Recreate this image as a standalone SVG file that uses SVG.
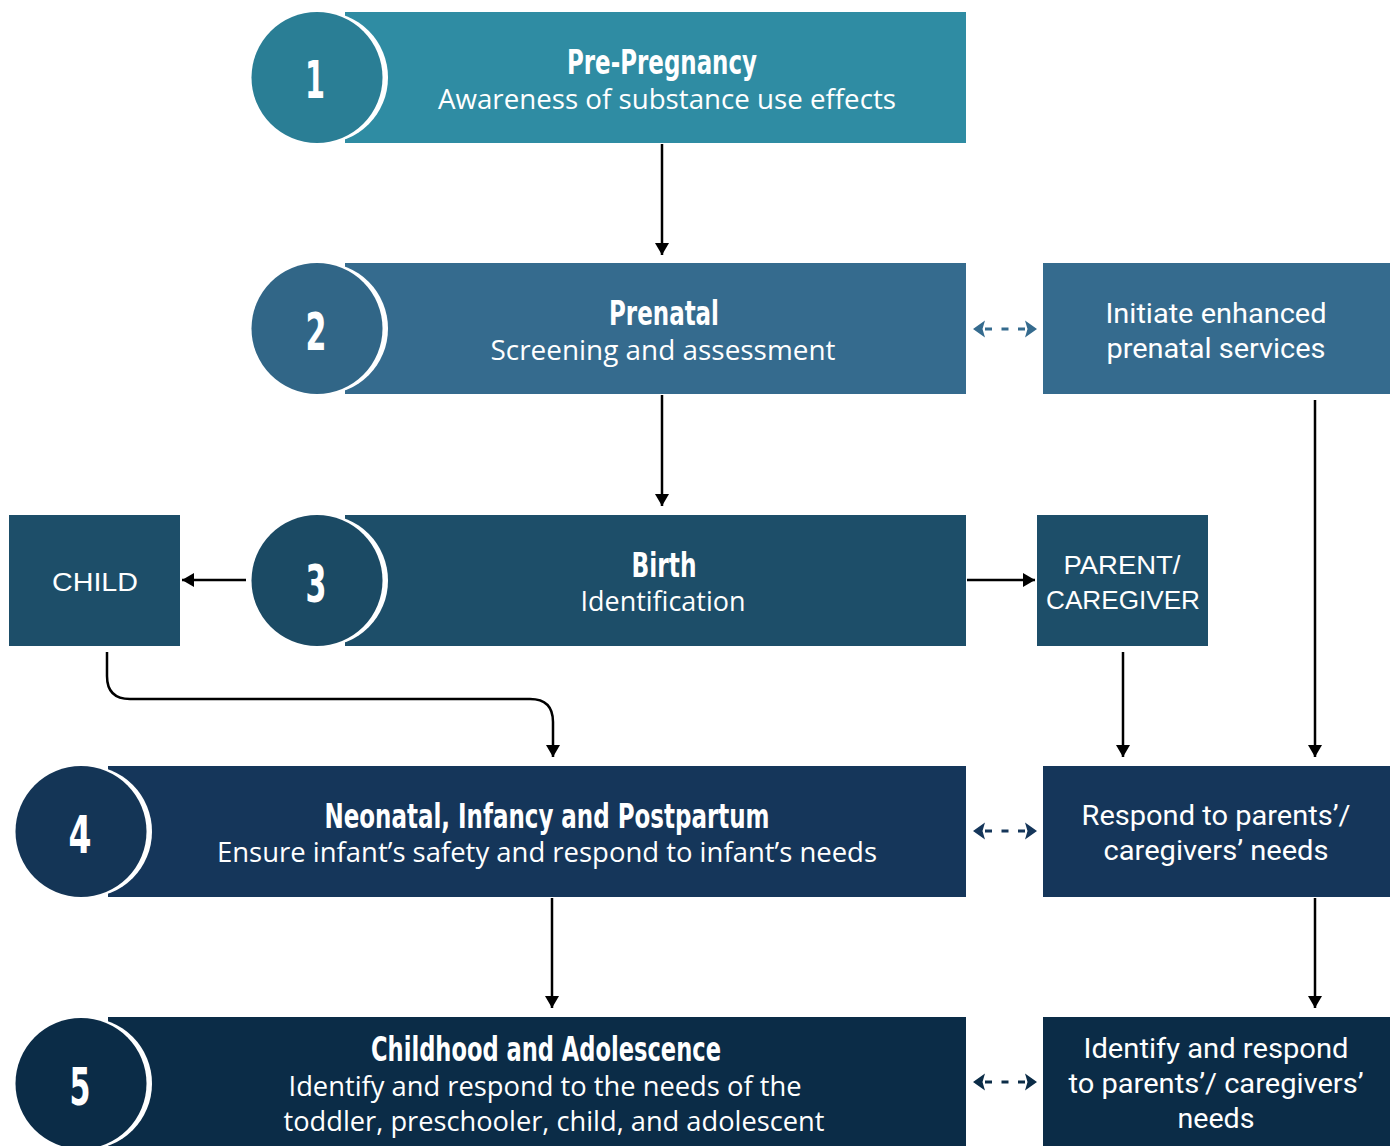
<svg xmlns="http://www.w3.org/2000/svg" width="1394" height="1146" viewBox="0 0 1394 1146">
<style>
.t{font-family:"Liberation Sans Narrow","DejaVu Sans Condensed","Liberation Sans",sans-serif;font-weight:bold;fill:#fff;text-anchor:middle}
.s{font-family:"Open Sans","Noto Sans",sans-serif;fill:#fff;text-anchor:middle;font-size:27px}
.n{font-family:"Liberation Sans Narrow","DejaVu Sans Condensed","Liberation Sans",sans-serif;font-weight:bold;fill:#fff;text-anchor:middle;font-size:52px}
.r{font-family:Roboto,"Liberation Sans",sans-serif;fill:#fff;text-anchor:middle;font-size:28px}
.a{font-family:"Liberation Sans",Arial,sans-serif;fill:#fff;text-anchor:middle;font-size:26px}
.c{fill:none;stroke:#000;stroke-width:2.5}
.d{fill:none;stroke-width:3;stroke-dasharray:7 9.5}
</style>
<defs>
<marker id="ah" markerUnits="userSpaceOnUse" markerWidth="14" markerHeight="14" refX="12" refY="7" orient="auto"><path d="M0,0 L12,7 L0,14 z" fill="#000"/></marker>
<marker id="d2" markerUnits="userSpaceOnUse" markerWidth="14" markerHeight="18" refX="0" refY="9" orient="auto-start-reverse"><path d="M0,0.5 L12,9 L0,17.5 L2.5,9 z" fill="#356b8e"/></marker>
<marker id="d4" markerUnits="userSpaceOnUse" markerWidth="14" markerHeight="18" refX="0" refY="9" orient="auto-start-reverse"><path d="M0,0.5 L12,9 L0,17.5 L2.5,9 z" fill="#15365a"/></marker>
<marker id="d5" markerUnits="userSpaceOnUse" markerWidth="14" markerHeight="18" refX="0" refY="9" orient="auto-start-reverse"><path d="M0,0.5 L12,9 L0,17.5 L2.5,9 z" fill="#0b2c47"/></marker>
</defs>
<rect width="1394" height="1146" fill="#fff"/>

<g id="step1">
<rect x="345" y="12" width="621" height="131" fill="#2f8ca3"/>
<circle cx="322" cy="77.5" r="66" fill="#fff"/>
<circle cx="317" cy="77.5" r="65.5" fill="#2a7e95"/>
<text class="n" x="315" y="98" textLength="20" lengthAdjust="spacingAndGlyphs">1</text>
<text class="t" x="662" y="74" font-size="34" textLength="190" lengthAdjust="spacingAndGlyphs">Pre-Pregnancy</text>
<text class="s" x="667" y="109" textLength="458" lengthAdjust="spacingAndGlyphs">Awareness of substance use effects</text>
</g>

<g id="step2">
<rect x="345" y="263" width="621" height="131" fill="#356b8e"/>
<circle cx="322" cy="328.5" r="66" fill="#fff"/>
<circle cx="317" cy="328.5" r="65.5" fill="#316687"/>
<text class="n" x="316" y="350" textLength="21" lengthAdjust="spacingAndGlyphs">2</text>
<text class="t" x="664" y="325" font-size="34" textLength="110" lengthAdjust="spacingAndGlyphs">Prenatal</text>
<text class="s" x="663" y="360" textLength="345" lengthAdjust="spacingAndGlyphs">Screening and assessment</text>
</g>

<g id="initiate">
<rect x="1043" y="263" width="347" height="131" fill="#356b8e"/>
<text class="r" x="1216" y="323" textLength="221" lengthAdjust="spacingAndGlyphs">Initiate enhanced</text>
<text class="r" x="1216" y="358" textLength="219" lengthAdjust="spacingAndGlyphs">prenatal services</text>
</g>

<g id="step3">
<rect x="345" y="515" width="621" height="131" fill="#1d4e69"/>
<circle cx="322" cy="580.5" r="66" fill="#fff"/>
<circle cx="317" cy="580.5" r="65.5" fill="#1b4a64"/>
<text class="n" x="316" y="602" textLength="21" lengthAdjust="spacingAndGlyphs">3</text>
<text class="t" x="664" y="577" font-size="34" textLength="65" lengthAdjust="spacingAndGlyphs">Birth</text>
<text class="s" x="663" y="611" textLength="165" lengthAdjust="spacingAndGlyphs">Identification</text>
</g>

<g id="child">
<rect x="9" y="515" width="171" height="131" fill="#1d4e69"/>
<text class="a" x="95" y="591" textLength="86" lengthAdjust="spacingAndGlyphs">CHILD</text>
</g>

<g id="parent">
<rect x="1037" y="515" width="171" height="131" fill="#1d4e69"/>
<text class="a" x="1122" y="574" textLength="117" lengthAdjust="spacingAndGlyphs">PARENT/</text>
<text class="a" x="1123" y="609" textLength="154" lengthAdjust="spacingAndGlyphs">CAREGIVER</text>
</g>

<g id="step4">
<rect x="108" y="766" width="858" height="131" fill="#15365a"/>
<circle cx="86" cy="831.5" r="66" fill="#fff"/>
<circle cx="81" cy="831.5" r="65.5" fill="#143556"/>
<text class="n" x="80" y="853" textLength="23" lengthAdjust="spacingAndGlyphs">4</text>
<text class="t" x="547" y="828" font-size="34" textLength="445" lengthAdjust="spacingAndGlyphs">Neonatal, Infancy and Postpartum</text>
<text class="s" x="547" y="862" textLength="660" lengthAdjust="spacingAndGlyphs">Ensure infant’s safety and respond to infant’s needs</text>
</g>

<g id="respond">
<rect x="1043" y="766" width="347" height="131" fill="#15365a"/>
<text class="r" x="1216" y="825" textLength="269" lengthAdjust="spacingAndGlyphs">Respond to parents’/</text>
<text class="r" x="1216" y="860" textLength="225" lengthAdjust="spacingAndGlyphs">caregivers’ needs</text>
</g>

<g id="step5">
<rect x="108" y="1017" width="858" height="129" fill="#0b2c47"/>
<circle cx="86" cy="1083.5" r="66" fill="#fff"/>
<circle cx="81" cy="1083.5" r="65.5" fill="#0b2c47"/>
<text class="n" x="80" y="1105" textLength="21" lengthAdjust="spacingAndGlyphs">5</text>
<text class="t" x="546" y="1061" font-size="34" textLength="350" lengthAdjust="spacingAndGlyphs">Childhood and Adolescence</text>
<text class="s" x="545" y="1096" textLength="513" lengthAdjust="spacingAndGlyphs">Identify and respond to the needs of the</text>
<text class="s" x="554" y="1131" textLength="541" lengthAdjust="spacingAndGlyphs">toddler, preschooler, child, and adolescent</text>
</g>

<g id="identify">
<rect x="1043" y="1017" width="347" height="129" fill="#0b2c47"/>
<text class="r" x="1216" y="1058" textLength="265" lengthAdjust="spacingAndGlyphs">Identify and respond</text>
<text class="r" x="1216" y="1093" textLength="295" lengthAdjust="spacingAndGlyphs">to parents’/ caregivers’</text>
<text class="r" x="1216" y="1128" textLength="77" lengthAdjust="spacingAndGlyphs">needs</text>
</g>

<g id="connectors">
<line class="c" x1="662" y1="144" x2="662" y2="255" marker-end="url(#ah)"/>
<line class="c" x1="662" y1="395" x2="662" y2="506" marker-end="url(#ah)"/>
<line class="c" x1="246" y1="580" x2="182" y2="580" marker-end="url(#ah)"/>
<line class="c" x1="967" y1="580" x2="1035" y2="580" marker-end="url(#ah)"/>
<path class="c" d="M107,652 V676 Q107,699 130,699 H530 Q553,699 553,722 V757" marker-end="url(#ah)"/>
<line class="c" x1="1123" y1="652" x2="1123" y2="757" marker-end="url(#ah)"/>
<line class="c" x1="1315" y1="400" x2="1315" y2="757" marker-end="url(#ah)"/>
<line class="c" x1="552" y1="898" x2="552" y2="1008" marker-end="url(#ah)"/>
<line class="c" x1="1315" y1="898" x2="1315" y2="1008" marker-end="url(#ah)"/>
<line class="d" stroke="#356b8e" x1="985" y1="329" x2="1025" y2="329" marker-start="url(#d2)" marker-end="url(#d2)"/>
<line class="d" stroke="#15365a" x1="985" y1="831" x2="1025" y2="831" marker-start="url(#d4)" marker-end="url(#d4)"/>
<line class="d" stroke="#0b2c47" x1="985" y1="1082" x2="1025" y2="1082" marker-start="url(#d5)" marker-end="url(#d5)"/>
</g>
</svg>
